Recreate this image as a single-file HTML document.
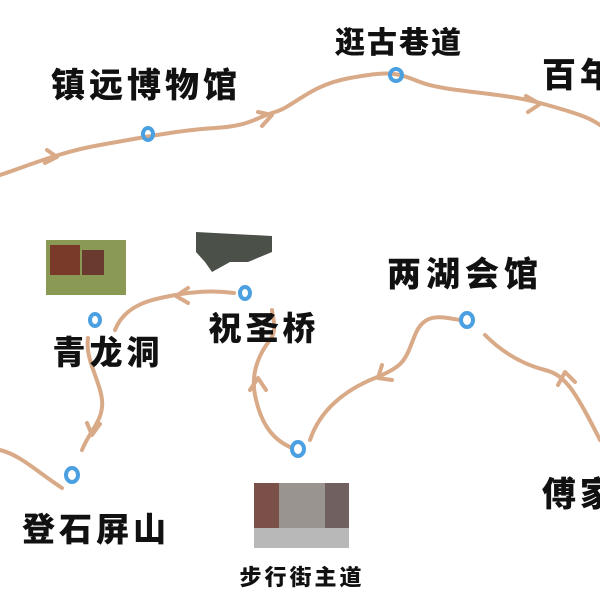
<!DOCTYPE html>
<html><head><meta charset="utf-8"><style>
body{margin:0;width:600px;height:600px;background:#fff;overflow:hidden;position:relative;font-family:"Liberation Sans","Noto Sans CJK SC",sans-serif}
.t{position:absolute;font-weight:900;color:#111;white-space:nowrap;transform:translateX(-50%)}
</style></head><body>
<svg width="600" height="600" style="position:absolute;left:0;top:0">
<g fill="none" stroke="#d9aa88" stroke-width="4" stroke-linecap="round" stroke-linejoin="round">
<path d="M0,175 C30,165 60,152 100,145 S180,130 215,128 S255,118 275,112 S310,85 350,78 S395,72 420,82 S500,92 540,103 S590,118 600,125"/>
<path d="M47,150 L57,157 L45,163"/><path d="M258,112 L272,115 L262,126"/><path d="M526,96 L540,104 L528,112"/>
<path d="M234,293 C210,290 190,292 170,296 S125,305 115,330"/>
<path d="M188,288 L176,296 L188,303"/>
<path d="M88,338 C85,360 100,380 102,400 S90,430 82,450"/>
<path d="M87,423 L92,435 L100,424"/>
<path d="M0,450 C20,455 35,470 62,488"/>
<path d="M290,447 C270,438 260,420 255,395 S262,350 270,340 S272,315 272,310"/>
<path d="M250,390 L258,378 L266,390"/>
<path d="M310,440 C320,410 345,390 375,378 S405,360 415,335 S445,318 460,320"/>
<path d="M382,365 L378,378 L392,380"/>
<path d="M485,335 C505,355 525,365 545,370 S575,390 600,440"/>
<path d="M558,385 L565,372 L575,382"/>
</g>
<g fill="none" stroke="#4aa0e0" stroke-width="4">
<ellipse cx="148" cy="134" rx="5" ry="6"/><ellipse cx="396" cy="75" rx="6" ry="6"/>
<ellipse cx="245" cy="293" rx="5" ry="6"/><ellipse cx="95" cy="320" rx="5" ry="6"/>
<ellipse cx="72" cy="475" rx="6" ry="7"/><ellipse cx="298" cy="449" rx="6" ry="7"/>
<ellipse cx="467" cy="320" rx="6" ry="7"/>
</g>
<rect x="46" y="240" width="80" height="55" fill="#8a9a55"/>
<rect x="50" y="245" width="30" height="30" fill="#7a3a2a"/><rect x="82" y="250" width="22" height="25" fill="#6a3a30"/>
<path d="M196,232 L272,236 L272,252 L248,262 L230,262 L212,272 L205,262 L196,252Z" fill="#4b5048"/>
<rect x="254" y="483" width="95" height="65" fill="#9a9490"/>
<rect x="254" y="483" width="25" height="45" fill="#7a5048"/><rect x="325" y="483" width="24" height="45" fill="#706060"/>
<rect x="254" y="528" width="95" height="20" fill="#b8b8b8"/>
</svg>
<div class="t" style="left:399px;top:18px;font-size:30px;letter-spacing:2px">逛古巷道</div>
<div class="t" style="left:146px;top:58px;font-size:34px;letter-spacing:4px">镇远博物馆</div>
<div class="t" style="left:580px;top:48px;font-size:34px;letter-spacing:4px">百年</div>
<div class="t" style="left:465px;top:247px;font-size:34px;letter-spacing:5px">两湖会馆</div>
<div class="t" style="left:264px;top:302px;font-size:33px;letter-spacing:4px">祝圣桥</div>
<div class="t" style="left:108px;top:326px;font-size:33px;letter-spacing:4px">青龙洞</div>
<div class="t" style="left:96px;top:503px;font-size:33px;letter-spacing:4px">登石屏山</div>
<div class="t" style="left:302px;top:560px;font-size:22px;letter-spacing:3px">步行街主道</div>
<div class="t" style="left:580px;top:467px;font-size:34px;letter-spacing:4px">傅家</div>
</body></html>
